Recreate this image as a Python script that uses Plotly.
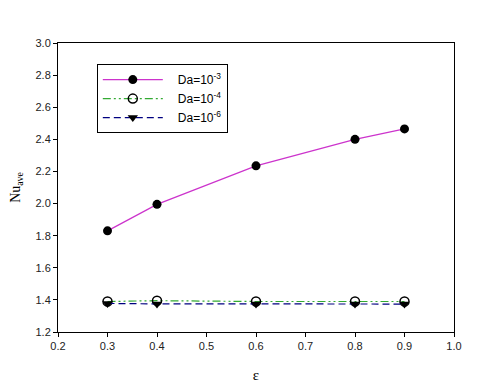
import plotly.graph_objects as go

# data
eps = [0.3, 0.4, 0.6, 0.8, 0.9]
nu_da3 = [1.83, 1.995, 2.235, 2.40, 2.465]
nu_da4 = [1.39, 1.395, 1.39, 1.39, 1.39]
nu_da6 = [1.378, 1.375, 1.375, 1.375, 1.374]

x_ticks = [0.2, 0.3, 0.4, 0.5, 0.6, 0.7, 0.8, 0.9, 1.0]
y_ticks = [1.2, 1.4, 1.6, 1.8, 2.0, 2.2, 2.4, 2.6, 2.8, 3.0]

pad = "&nbsp;" * 3

fig = go.Figure()

fig.add_trace(go.Scatter(
    x=eps, y=nu_da3, name=pad + "Da=10<sup>-3</sup>", mode="lines+markers",
    line=dict(color="#cc33cc", width=1.2),
    marker=dict(symbol="circle", size=9, color="black"),
))
fig.add_trace(go.Scatter(
    x=eps, y=nu_da4, name=pad + "Da=10<sup>-4</sup>", mode="lines+markers",
    line=dict(color="#33aa33", width=1.2, dash="8px,3px,2px,3px,2px,3px"),
    marker=dict(symbol="circle-open", size=9, color="black", line=dict(width=1.5)),
))
fig.add_trace(go.Scatter(
    x=eps, y=nu_da6, name=pad + "Da=10<sup>-6</sup>", mode="lines+markers",
    line=dict(color="#000080", width=1.2, dash="7px,4px"),
    marker=dict(symbol="triangle-down", size=9, color="black"),
))

axis_common = dict(
    showgrid=False, zeroline=False, showline=True, linecolor="black", linewidth=1,
    mirror=True, ticks="outside", ticklen=4, tickcolor="black", automargin=False,
    tickfont=dict(family="Arial, Liberation Sans", size=11, color="#222222"),
)

fig.update_xaxes(
    range=[0.2, 1.0], tickvals=x_ticks, ticktext=[f"{v:.1f}" for v in x_ticks],
    title=dict(text="ε", font=dict(family="Liberation Serif", size=15, color="black"), standoff=18),
    **axis_common,
)
fig.update_yaxes(
    range=[1.2, 3.0], tickvals=y_ticks, ticktext=[f"{v:.1f}" for v in y_ticks],
    title=dict(text="Nu<sub>ave</sub>", font=dict(family="Liberation Serif", size=14, color="black"), standoff=14),
    **axis_common,
)

fig.update_layout(
    width=480, height=387,
    margin=dict(l=50, r=34, t=35, b=63),
    paper_bgcolor="white", plot_bgcolor="white",
    showlegend=True,
    legend=dict(
        x=0.098, y=0.927, xanchor="left", yanchor="top",
        bordercolor="black", borderwidth=1, bgcolor="white",
        font=dict(family="Arial, Liberation Sans", size=12, color="black"),
        itemwidth=60, tracegroupgap=0,
    ),
)

fig.write_html("out.html")
